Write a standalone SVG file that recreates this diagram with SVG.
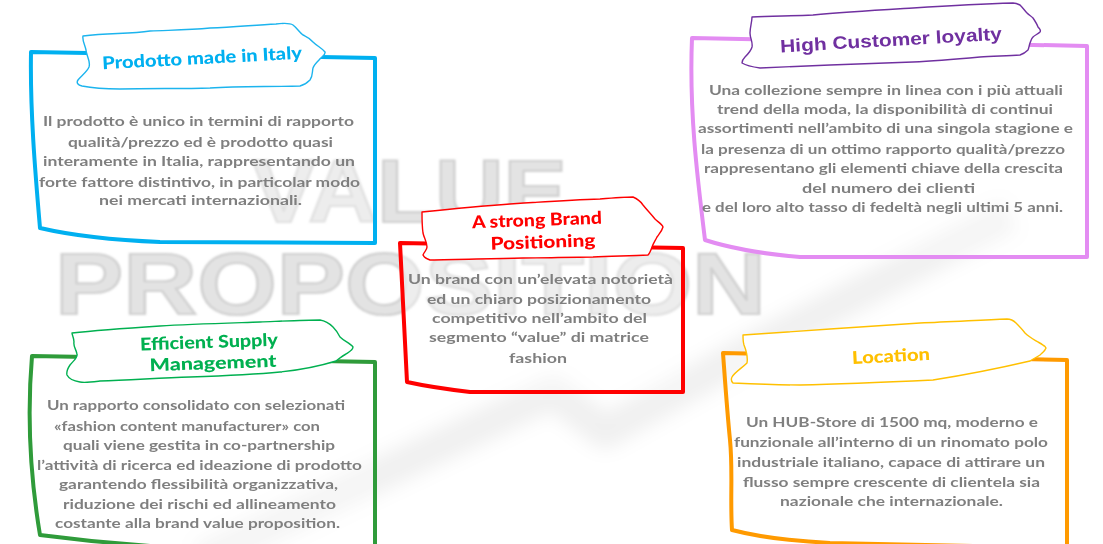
<svg xmlns="http://www.w3.org/2000/svg" width="1103" height="544" viewBox="0 0 1103 544">
<defs>
<filter id="soft" x="-5%" y="-5%" width="110%" height="110%"><feGaussianBlur stdDeviation="1.1"/></filter>
<filter id="haze" x="-20%" y="-20%" width="140%" height="140%"><feGaussianBlur stdDeviation="9"/></filter>
<style>
.wm{font-family:"Liberation Sans",Arial,sans-serif;font-weight:bold;fill:#d2d2d2;stroke:#b4b4b4;stroke-width:2.2;opacity:.62}
.box{fill:#ffffff;fill-opacity:.35;stroke-width:4;stroke-linejoin:round;stroke-linecap:round}
.tag{fill:#ffffff;stroke-width:1.4;stroke-linejoin:round}
.title{font-family:Lato,"Open Sans",sans-serif;font-weight:900;font-size:17.5px}
.body{font-family:Lato,"Open Sans",sans-serif;font-weight:bold;font-size:13.5px;fill:#7f7f7f}
</style>
</defs>
<rect width="1103" height="544" fill="#ffffff"/>
<g id="background">
<polyline points="200,560 553,392 605,432 760,345 1010,215" fill="none" stroke="#000" stroke-opacity=".06" stroke-width="34" stroke-linejoin="round" filter="url(#haze)"/>
<g filter="url(#soft)">
<text class="wm" x="252" y="222" font-size="89" textLength="315" lengthAdjust="spacingAndGlyphs">VALUE</text>
<text class="wm" x="55" y="314" font-size="88" textLength="711" lengthAdjust="spacingAndGlyphs">PROPOSITION</text>
</g>
</g>
<g id="connectors"></g>
<g id="node-made-in-italy">
<path class="box" stroke="#00B0F0" d="M31,52 L375,58 L375,243 L160,242 C110,240 70,235 40,228 C35,170 30,110 31,52 Z"/>
<path class="tag" stroke="#1CB4EE" d="M83,36 C110,33 130,34 150,31 C175,30 190,30 210,28 C235,27 255,25 276,24 C284,23 290,23 293,25 C297,28 299,32 303,35 C307,37 310,38 313,42 C317,46 322,48 325,52 C326,55 321,57 319,60 C316,63 314,65 313,68 C312,72 313,76 310,80 C307,83 304,85 300,86 C270,87 240,86 210,88 C180,89 150,88 120,89 C105,89 92,88 82,86 C78,85 76,83 78,80 C81,76 87,72 89,67 C91,61 86,55 86,50 C85,45 82,40 83,36 Z"/>
<text class="title" fill="#00B0F0" x="202" y="64" text-anchor="middle" textLength="200" lengthAdjust="spacingAndGlyphs" transform="rotate(-3 202 58)">Prodotto made in Italy</text>
<text class="body" x="43" y="126" textLength="311" lengthAdjust="spacingAndGlyphs">Il prodotto è unico in termini di rapporto</text>
<text class="body" x="68" y="147" textLength="265" lengthAdjust="spacingAndGlyphs">qualità/prezzo ed è prodotto quasi</text>
<text class="body" x="43" y="166" textLength="312" lengthAdjust="spacingAndGlyphs">interamente in Italia, rappresentando un</text>
<text class="body" x="39" y="187" textLength="321" lengthAdjust="spacingAndGlyphs">forte fattore distintivo, in particolar modo</text>
<text class="body" x="99" y="205" textLength="203" lengthAdjust="spacingAndGlyphs">nei mercati internazionali.</text>
</g>
<g id="node-supply">
<path class="box" stroke="#2F9B3A" d="M32,356 L375,362 L375,550 L150,546 C105,543 70,539 40,535 C30,475 27,415 32,356 Z"/>
<path class="tag" stroke="#00B050" d="M72,333 C100,330 130,328 160,326 C190,324 230,323 260,322 C285,321 305,320 320,320 C326,321 330,324 333,327 C336,330 338,333 340,337 C344,341 350,343 353,347 C353,350 349,352 346,354 C342,356 340,358 336,361 C320,366 300,370 280,372 C250,375 220,376 190,377 C160,378 130,380 100,381 C92,382 85,383 80,382 C74,381 69,379 67,375 C66,371 68,368 70,365 C73,361 78,358 77,354 C76,349 73,346 74,342 C74,338 72,335 72,333 Z"/>
<text class="title" fill="#00B050" x="209" y="348" text-anchor="middle" textLength="138" lengthAdjust="spacingAndGlyphs" transform="rotate(-2 209 343)">Efficient Supply</text>
<text class="title" fill="#00B050" x="213" y="369" text-anchor="middle" textLength="127" lengthAdjust="spacingAndGlyphs" transform="rotate(-2 213 364)">Management</text>
<text class="body" x="47" y="410" textLength="298" lengthAdjust="spacingAndGlyphs">Un rapporto consolidato con selezionati</text>
<text class="body" x="54" y="431" textLength="266" lengthAdjust="spacingAndGlyphs">«fashion content manufacturer» con</text>
<text class="body" x="63" y="450" textLength="272" lengthAdjust="spacingAndGlyphs">quali viene gestita in co-partnership</text>
<text class="body" x="37" y="470" textLength="325" lengthAdjust="spacingAndGlyphs">l’attività di ricerca ed ideazione di prodotto</text>
<text class="body" x="59" y="489" textLength="279" lengthAdjust="spacingAndGlyphs">garantendo flessibilità organizzativa,</text>
<text class="body" x="63" y="509" textLength="273" lengthAdjust="spacingAndGlyphs">riduzione dei rischi ed allineamento</text>
<text class="body" x="55" y="528" textLength="285" lengthAdjust="spacingAndGlyphs">costante alla brand value proposition.</text>
</g>
<g id="node-brand">
<path class="box" stroke="#FF0000" d="M400,243 L683,248 L683,392 L470,392 C445,389 425,386 407,382 C405,335 402,290 400,243 Z"/>
<path class="tag" stroke="#FF0000" d="M422,212 C450,209 480,206 510,204 C540,202 570,200 600,199 C612,198 625,197 633,197 C638,199 641,202 643,205 C647,210 651,214 655,219 C658,222 662,224 663,227 C662,231 659,234 657,237 C655,241 653,244 652,247 C651,250 650,253 648,255 C630,256 612,256 593,257 C570,257 546,258 523,258 C490,259 460,259 430,260 C427,259 424,257 423,255 C424,252 427,250 427,247 C427,242 424,238 423,233 C422,226 422,219 422,212 Z"/>
<text class="title" fill="#FF0000" x="537" y="226" text-anchor="middle" textLength="130" lengthAdjust="spacingAndGlyphs" transform="rotate(-2 537 221)">A strong Brand</text>
<text class="title" fill="#FF0000" x="543" y="248" text-anchor="middle" textLength="105" lengthAdjust="spacingAndGlyphs" transform="rotate(-2 543 243)">Positioning</text>
<text class="body" x="408" y="284" textLength="265" lengthAdjust="spacingAndGlyphs">Un brand con un’elevata notorietà</text>
<text class="body" x="427" y="304" textLength="224" lengthAdjust="spacingAndGlyphs">ed un chiaro posizionamento</text>
<text class="body" x="432" y="323" textLength="215" lengthAdjust="spacingAndGlyphs">competitivo nell’ambito del</text>
<text class="body" x="429" y="342" textLength="220" lengthAdjust="spacingAndGlyphs">segmento “value” di matrice</text>
<text class="body" x="509" y="363" textLength="58" lengthAdjust="spacingAndGlyphs">fashion</text>
</g>
<g id="node-loyalty">
<path class="box" stroke="#E38CF2" d="M692,38 L1087,46 L1087,257 L800,257 C765,254 730,248 705,240 C697,175 689,110 692,38 Z"/>
<path class="tag" stroke="#7030A0" d="M752,17 C770,16 790,16 813,15 C845,12 880,10 913,8 C945,6 980,4 1013,3 C1016,3 1018,4 1020,5 C1023,8 1025,11 1027,13 C1029,15 1031,16 1033,18 C1035,21 1037,24 1038,27 C1040,29 1041,31 1040,32 C1038,34 1035,35 1033,37 C1031,39 1031,41 1030,43 C1029,46 1029,48 1028,50 C1026,52 1023,54 1020,55 C1007,56 993,56 980,57 C958,59 935,61 913,62 C885,63 858,64 830,65 C807,66 783,67 760,68 C753,67 747,66 742,63 C742,61 743,59 745,57 C748,54 751,51 752,47 C753,42 750,38 750,33 C750,27 752,22 752,17 Z"/>
<text fill="#7030A0" font-family="'Liberation Sans',Arial,sans-serif" font-weight="bold" font-size="18" x="891" y="46" text-anchor="middle" textLength="222" lengthAdjust="spacingAndGlyphs" transform="rotate(-3.3 891 40)">High Customer loyalty</text>
<text class="body" x="709" y="95" textLength="354" lengthAdjust="spacingAndGlyphs">Una collezione sempre in linea con i più attuali</text>
<text class="body" x="717" y="114" textLength="336" lengthAdjust="spacingAndGlyphs">trend della moda, la disponibilità di continui</text>
<text class="body" x="698" y="133" textLength="375" lengthAdjust="spacingAndGlyphs">assortimenti nell’ambito di una singola stagione e</text>
<text class="body" x="701" y="154" textLength="364" lengthAdjust="spacingAndGlyphs">la presenza di un ottimo rapporto qualità/prezzo</text>
<text class="body" x="704" y="173" textLength="359" lengthAdjust="spacingAndGlyphs">rappresentano gli elementi chiave della crescita</text>
<text class="body" x="802" y="193" textLength="173" lengthAdjust="spacingAndGlyphs">del numero dei clienti</text>
<text class="body" x="702" y="212" textLength="361" lengthAdjust="spacingAndGlyphs">e del loro alto tasso di fedeltà negli ultimi 5 anni.</text>
</g>
<g id="node-location">
<path class="box" stroke="#FF9A00" d="M723,353 L1067,360 L1067,548 L830,543 C790,541 755,536 732,530 C730,500 733,470 730,440 C727,410 725,380 723,353 Z"/>
<path class="tag" stroke="#FFC000" d="M743,335 C770,333 800,331 830,329 C860,327 890,325 920,323 C950,322 980,320 1007,319 C1011,319 1014,321 1016,323 C1019,326 1022,329 1025,333 C1029,337 1033,339 1038,342 C1042,344 1045,346 1046,348 C1045,351 1042,353 1040,355 C1037,357 1033,359 1030,361 C1000,368 965,375 933,380 C890,382 845,384 800,385 C778,385 755,384 733,383 C731,381 731,379 732,377 C735,372 742,368 747,363 C748,357 746,350 744,345 C743,342 743,338 743,335 Z"/>
<text class="title" fill="#FFC000" x="891" y="362" text-anchor="middle" textLength="78" lengthAdjust="spacingAndGlyphs" transform="rotate(-3 891 356)">Location</text>
<text class="body" x="746" y="427" textLength="292" lengthAdjust="spacingAndGlyphs">Un HUB-Store di 1500 mq, moderno e</text>
<text class="body" x="734" y="447" textLength="314" lengthAdjust="spacingAndGlyphs">funzionale all’interno di un rinomato polo</text>
<text class="body" x="737" y="467" textLength="308" lengthAdjust="spacingAndGlyphs">industriale italiano, capace di attirare un</text>
<text class="body" x="743" y="487" textLength="297" lengthAdjust="spacingAndGlyphs">flusso sempre crescente di clientela sia</text>
<text class="body" x="780" y="506" textLength="223" lengthAdjust="spacingAndGlyphs">nazionale che internazionale.</text>
</g>
</svg>
